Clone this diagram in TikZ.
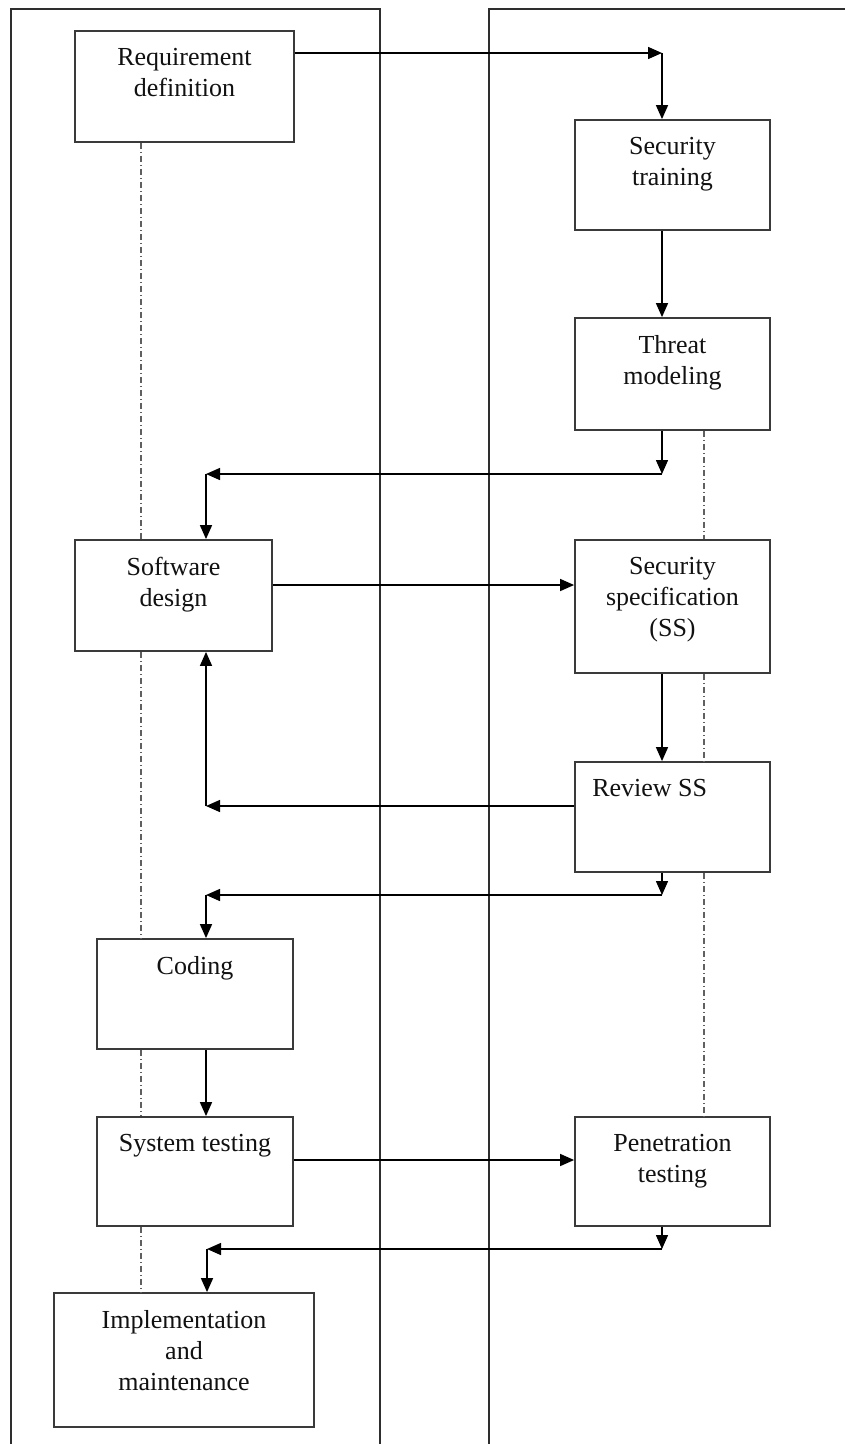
\documentclass[tikz,border=0pt]{standalone}
\usepackage{fontspec}
\setmainfont{Liberation Serif}
\usetikzlibrary{arrows.meta,calc}
\definecolor{boxc}{HTML}{3A3A3A}
\definecolor{lanec}{HTML}{2E2E2E}
\definecolor{guide}{HTML}{606060}
\definecolor{ink}{HTML}{111111}
\tikzset{
  stagebox/.style={draw=boxc, line width=1.8pt, inner sep=0pt, fill=white},
  txt/.style={anchor=north, yshift=-18pt, inner sep=0pt, align=center,
    text=ink, font=\fontsize{26}{31}\selectfont},
  flow/.style={draw=black, line width=1.5pt,
    -{Triangle[length=14pt,width=12pt]}},
  lane/.style={draw=lanec, line width=1.3pt},
  guideline/.style={draw=guide, line width=1.2pt,
    dash pattern=on 6pt off 3pt on 1pt off 3pt}
}
\begin{document}
\begin{tikzpicture}[x=1pt,y=-1pt]
\useasboundingbox (0,0) rectangle (845,1444);

% swim lanes
\draw[lane] (11,1444) -- (11,9) -- (380,9) -- (380,1444);
\draw[lane] (489,1444) -- (489,9) -- (845,9);

% development stages (left lane)
\node[stagebox, minimum width=219pt, minimum height=111pt] (req)  at (184.5,86.5) {};
\node[stagebox, minimum width=197pt, minimum height=111pt] (sdes) at (173.5,595.5) {};
\node[stagebox, minimum width=196pt, minimum height=110pt] (cod)  at (195,994) {};
\node[stagebox, minimum width=196pt, minimum height=109pt] (syst) at (195,1171.5) {};
\node[stagebox, minimum width=260pt, minimum height=134pt] (impl) at (184,1360) {};

% security activities (right lane)
\node[stagebox, minimum width=195pt, minimum height=110pt] (sect)   at (672.5,175) {};
\node[stagebox, minimum width=195pt, minimum height=112pt] (threat) at (672.5,374) {};
\node[stagebox, minimum width=195pt, minimum height=133pt] (sspec)  at (672.5,606.5) {};
\node[stagebox, minimum width=195pt, minimum height=110pt] (rev)    at (672.5,817) {};
\node[stagebox, minimum width=195pt, minimum height=109pt] (pen)    at (672.5,1171.5) {};

% captions
\node[txt] (reqT)    at (req.north)    {Requirement\\definition};
\node[txt] (sdesT)   at (sdes.north)   {Software\\design};
\node[txt] (codT)    at (cod.north)    {Coding};
\node[txt] (systT)   at (syst.north)   {System testing};
\node[txt] (implT)   at (impl.north)   {Implementation\\and\\maintenance};
\node[txt] (sectT)   at (sect.north)   {Security\\training};
\node[txt] (threatT) at (threat.north) {Threat\\modeling};
\node[txt] (sspecT)  at (sspec.north)  {Security\\specification\\(SS)};
\node[txt, anchor=north west, xshift=18pt] (revT) at (rev.north west) {Review SS};
\node[txt] (penT)    at (pen.north)    {Penetration\\testing};

% dash-dot guides between stages
\coordinate (gl) at (141,0);
\coordinate (gr) at (704,0);
\draw[guideline] (gl |- req.south)  -- (gl |- sdes.north);
\draw[guideline] (gl |- sdes.south) -- (gl |- cod.north);
\draw[guideline] (gl |- cod.south)  -- (gl |- syst.north);
\draw[guideline] (gl |- syst.south) -- (gl |- impl.north);
\draw[guideline] (gr |- threat.south) -- (gr |- sspec.north);
\draw[guideline] (gr |- sspec.south)  -- (gr |- rev.north);
\draw[guideline] (gr |- rev.south)    -- (gr |- pen.north);

% flow columns and junctions
\coordinate (xr) at (662,0);
\coordinate (xl) at (206,0);
\coordinate (j0) at (662,53);
\coordinate (j1) at (662,474);
\coordinate (k1) at (206,474);
\coordinate (k2) at (206,806);
\coordinate (j3) at (662,895);
\coordinate (k3) at (206,895);
\coordinate (j4) at (662,1249);
\coordinate (k4) at (207,1249);
\coordinate (ya) at (0,585);
\coordinate (yb) at (0,1160);

% requirement -> training -> threat modeling
\draw[flow] (req.east |- j0) -- (j0);
\draw[flow] (j0) -- (j0 |- sect.north);
\draw[flow] (xr |- sect.south) -- (xr |- threat.north);

% threat modeling -> software design
\draw[flow] (xr |- threat.south) -- (j1);
\draw[flow] (j1) -- (k1);
\draw[flow] (k1) -- (k1 |- sdes.north);

% software design <-> security specification / review
\draw[flow] (sdes.east |- ya) -- (sspec.west |- ya);
\draw[flow] (xr |- sspec.south) -- (xr |- rev.north);
\draw[flow] (rev.west |- k2) -- (k2);
\draw[flow] (k2) -- (k2 |- sdes.south);

% review -> coding -> system testing
\draw[flow] (xr |- rev.south) -- (j3);
\draw[flow] (j3) -- (k3);
\draw[flow] (k3) -- (k3 |- cod.north);
\draw[flow] (xl |- cod.south) -- (xl |- syst.north);

% system testing -> penetration testing -> implementation
\draw[flow] (syst.east |- yb) -- (pen.west |- yb);
\draw[flow] (xr |- pen.south) -- (j4);
\draw[flow] (j4) -- (k4);
\draw[flow] (k4) -- (k4 |- impl.north);
\end{tikzpicture}
\end{document}
